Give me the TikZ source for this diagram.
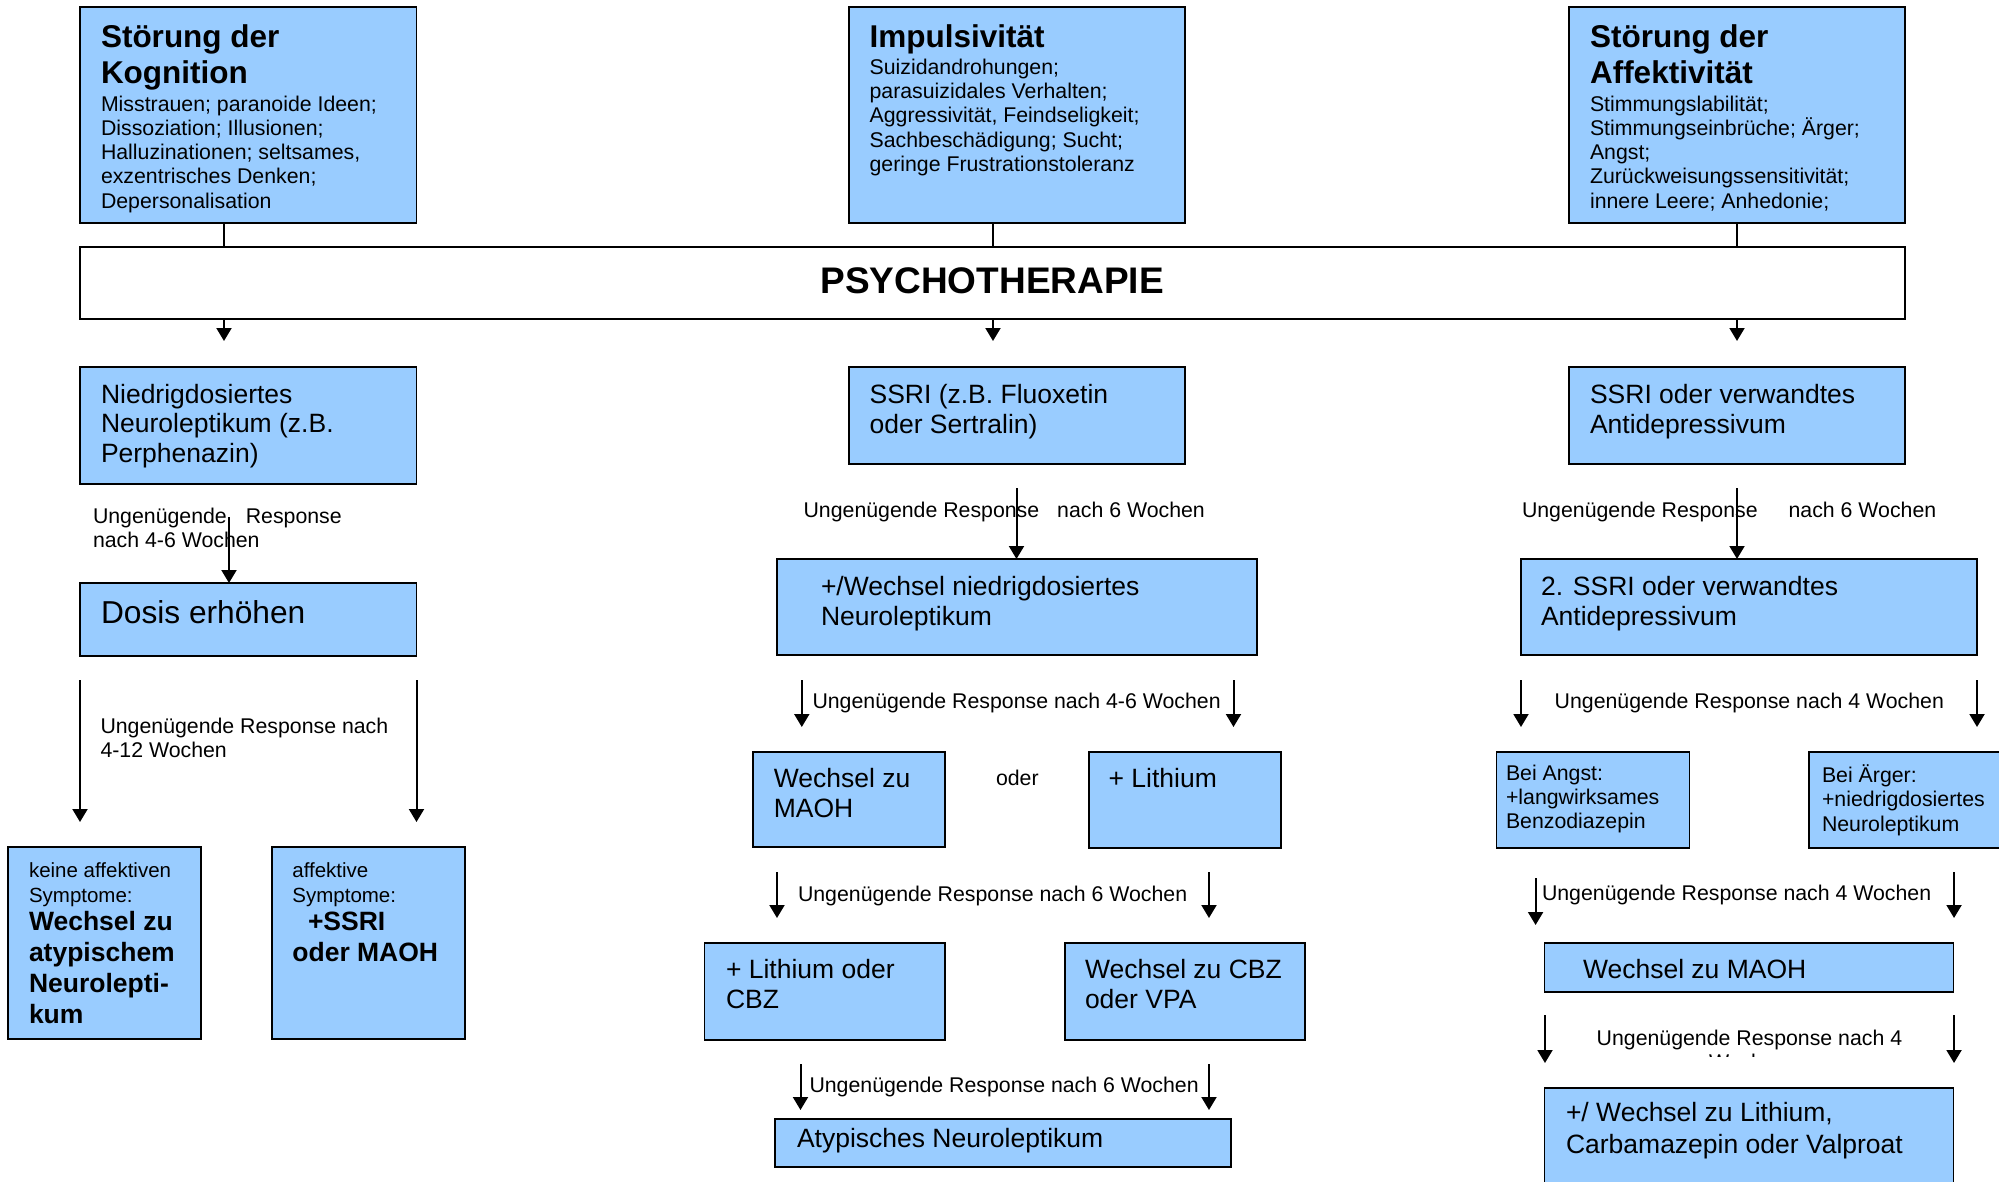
\documentclass[tikz,border=0pt]{standalone}
\usepackage{fontspec}
\setmainfont{Liberation Sans}
\usetikzlibrary{arrows.meta}
\definecolor{boxblue}{RGB}{153,204,255}
\newcommand\fs[2]{\fontsize{#1pt}{#2pt}\selectfont}
\newcommand\ml[2]{\vtop{\baselineskip=#1pt\lineskiplimit=-30pt\lineskip=0pt\relax #2}}
\tikzset{
  box/.style={draw=black, line width=1.7pt, fill=boxblue, anchor=north west, inner sep=0pt, outer sep=0pt},
  wbox/.style={box, fill=white},
  txt/.style={anchor=base west, inner sep=0pt, outer sep=0pt},
  arr/.style={line width=2pt, -{Triangle[length=13pt,width=15pt]}},
  con/.style={line width=2pt},
}
\begin{document}
\begin{tikzpicture}[x=1pt,y=-1pt]
\useasboundingbox (0,0) rectangle (1999,1181);
\clip (0,0) rectangle (1999,1181);
\fill[white] (0,0) rectangle (1999,1181);

% ---------- top row ----------
\node[box, minimum width=336.5pt, minimum height=216pt] (kog) at (80,7) {};
\node[box, minimum width=336.1pt, minimum height=216pt] (imp) at (848.7,7) {};
\node[box, minimum width=336.2pt, minimum height=216pt] (aff) at (1568.8,7) {};
\node[wbox, minimum width=1825pt, minimum height=72pt] (psy) at (80,247) {};

\node[txt] (kogT) at (101,47) {\fs{31.5}{36.5}\bfseries\ml{36.5}{\hbox{Störung der}\hbox{Kognition}}};
\node[txt] (kogB) at (101,111) {\fs{21.3}{24.3}\ml{24.3}{\hbox{Misstrauen; paranoide Ideen;}\hbox{Dissoziation; Illusionen;}\hbox{Halluzinationen; seltsames,}\hbox{exzentrisches Denken;}\hbox{Depersonalisation}}};
\node[txt] (impT) at (869.6,47) {\fs{31.5}{36.5}\bfseries Impulsivität};
\node[txt] (impB) at (869.6,74) {\fs{21.3}{24.4}\ml{24.4}{\hbox{Suizidandrohungen;}\hbox{parasuizidales Verhalten;}\hbox{Aggressivität, Feindseligkeit;}\hbox{Sachbeschädigung; Sucht;}\hbox{geringe Frustrationstoleranz}}};
\node[txt] (affT) at (1590,47) {\fs{31.5}{36.5}\bfseries\ml{36.5}{\hbox{Störung der}\hbox{Affektivität}}};
\node[txt] (affB) at (1590,111) {\fs{21.3}{24.3}\ml{24.3}{\hbox{Stimmungslabilität;}\hbox{Stimmungseinbrüche; Ärger;}\hbox{Angst;}\hbox{Zurückweisungssensitivität;}\hbox{innere Leere; Anhedonie;}}};
\node[txt] (psyT) at (820.5,293) {\fs{37}{42}\bfseries PSYCHOTHERAPIE};

\draw[con] (kog.south -| 224,0) -- (psy.north -| 224,0);
\draw[con] (imp.south -| 993,0) -- (psy.north -| 993,0);
\draw[con] (aff.south -| 1737,0) -- (psy.north -| 1737,0);
\coordinate (p1) at (224,341);
\coordinate (p2) at (993,341);
\coordinate (p3) at (1737,341);
\draw[arr] (psy.south -| p1) -- (p1);
\draw[arr] (psy.south -| p2) -- (p2);
\draw[arr] (psy.south -| p3) -- (p3);

% ---------- left column ----------
\node[box, minimum width=336.5pt, minimum height=117pt] (nied) at (80,367) {};
\node[txt] (niedT) at (101,403) {\fs{26.5}{29.5}\ml{29.5}{\hbox{Niedrigdosiertes}\hbox{Neuroleptikum (z.B.}\hbox{Perphenazin)}}};
\node[txt] (lab1) at (93,523) {\fs{21.3}{24}\ml{24}{\hbox{Ungenügende\hspace{19pt}Response}\hbox{nach 4-6 Wochen}}};
\node[box, minimum width=336.5pt, minimum height=73pt] (dosis) at (80,583) {};
\node[txt] (dosisT) at (101,623) {\fs{31.7}{36}Dosis erhöhen};
\coordinate (a1s) at (229,517);
\draw[arr] (a1s) -- (dosis.north -| a1s);

\node[txt] (lab2) at (100.5,733) {\fs{21.3}{24}\ml{24}{\hbox{Ungenügende Response nach}\hbox{4-12 Wochen}}};
\coordinate (a2ls) at (80,680); \coordinate (a2le) at (80,822);
\coordinate (a2rs) at (416.5,680); \coordinate (a2re) at (416.5,822);
\draw[arr] (a2ls) -- (a2le);
\draw[arr] (a2rs) -- (a2re);

\node[box, minimum width=193pt, minimum height=192pt] (keine) at (8,847) {};
\node[txt] (keineA) at (29,877) {\fs{20.5}{25}\ml{25}{\hbox{keine affektiven}\hbox{Symptome:}}};
\node[txt] (keineB) at (29,930) {\fs{26.5}{31}\bfseries\ml{31}{\hbox{Wechsel zu}\hbox{atypischem}\hbox{Neurolepti-}\hbox{kum}}};
\node[box, minimum width=193pt, minimum height=192pt] (affk) at (272,847) {};
\node[txt] (affkA) at (292.4,877) {\fs{20.5}{25}\ml{25}{\hbox{affektive}\hbox{Symptome:}}};
\node[txt] (affkB) at (292.4,930) {\fs{26.5}{31}\bfseries\ml{31}{\hbox{\hspace{15.6pt}+SSRI}\hbox{oder MAOH}}};

% ---------- middle column ----------
\node[box, minimum width=336.1pt, minimum height=97pt] (ssri) at (848.7,367) {};
\node[txt] (ssriT) at (869.6,403) {\fs{26.5}{30}\ml{30}{\hbox{SSRI (z.B. Fluoxetin}\hbox{oder Sertralin)}}};
\node[txt] (lab3) at (803.6,517) {\fs{21.3}{24}Ungenügende Response\hspace{18pt}nach 6 Wochen};
\node[box, minimum width=480.2pt, minimum height=96pt] (wech) at (776.8,559) {};
\node[txt] (wechT) at (821,595) {\fs{26.5}{30}\ml{30}{\hbox{+/Wechsel niedrigdosiertes}\hbox{Neuroleptikum}}};
\coordinate (a3s) at (1016.5,488);
\draw[arr] (a3s) -- (wech.north -| a3s);

\node[txt] (lab4) at (812.5,708) {\fs{21.3}{24}Ungenügende Response nach 4-6 Wochen};
\coordinate (a4ls) at (801.8,680); \coordinate (a4le) at (801.8,727);
\coordinate (a4rs) at (1233.5,680); \coordinate (a4re) at (1233.5,727);
\draw[arr] (a4ls) -- (a4le);
\draw[arr] (a4rs) -- (a4re);

\node[box, minimum width=192.2pt, minimum height=95pt] (maoh) at (752.8,752) {};
\node[txt] (maohT) at (773.8,787) {\fs{26.5}{30}\ml{30}{\hbox{Wechsel zu}\hbox{MAOH}}};
\node[txt] (oder) at (996,785) {\fs{21.3}{24}oder};
\node[box, minimum width=192pt, minimum height=96pt] (lith) at (1089,752) {};
\node[txt] (lithT) at (1108.6,787) {\fs{26.5}{30}+ Lithium};

\node[txt] (lab5) at (798,901) {\fs{21.3}{24}Ungenügende Response nach 6 Wochen};
\coordinate (a5ls) at (777,872); \coordinate (a5le) at (777,918);
\coordinate (a5rs) at (1209,872); \coordinate (a5re) at (1209,918);
\draw[arr] (a5ls) -- (a5le);
\draw[arr] (a5rs) -- (a5re);

\node[box, minimum width=240.4pt, minimum height=97pt] (lcbz) at (704.6,943) {};
\node[txt] (lcbzT) at (726,978) {\fs{26.5}{30}\ml{30}{\hbox{+ Lithium oder}\hbox{CBZ}}};
\node[box, minimum width=240.2pt, minimum height=97pt] (cbz) at (1064.8,943) {};
\node[txt] (cbzT) at (1085,978) {\fs{26.5}{30}\ml{30}{\hbox{Wechsel zu CBZ}\hbox{oder VPA}}};

\node[txt] (lab6) at (809.5,1092) {\fs{21.3}{24}Ungenügende Response nach 6 Wochen};
\coordinate (a6ls) at (800.5,1064); \coordinate (a6le) at (800.5,1110);
\coordinate (a6rs) at (1209,1064); \coordinate (a6re) at (1209,1110);
\draw[arr] (a6ls) -- (a6le);
\draw[arr] (a6rs) -- (a6re);

\node[box, minimum width=456pt, minimum height=48pt] (atyp) at (775,1119) {};
\node[txt] (atypT) at (797,1147) {\fs{26.5}{30}Atypisches Neuroleptikum};

% ---------- right column ----------
\node[box, minimum width=336.2pt, minimum height=97pt] (ssri2) at (1568.8,367) {};
\node[txt] (ssri2T) at (1590,403) {\fs{26.5}{30}\ml{30}{\hbox{SSRI oder verwandtes}\hbox{Antidepressivum}}};
\node[txt] (lab7) at (1522,517) {\fs{21.3}{24}Ungenügende Response\hspace{31pt}nach 6 Wochen};
\node[box, minimum width=456.3pt, minimum height=96pt] (ssri3) at (1520.7,559) {};
\node[txt] (ssri3T) at (1541,595) {\fs{26.5}{30}\ml{30}{\hbox{2. SSRI oder verwandtes}\hbox{Antidepressivum}}};
\coordinate (a7s) at (1737,488);
\draw[arr] (a7s) -- (ssri3.north -| a7s);

\node[txt] (lab8) at (1554.7,708) {\fs{21.3}{24}Ungenügende Response nach 4 Wochen};
\coordinate (a8ls) at (1521,680); \coordinate (a8le) at (1521,727);
\coordinate (a8rs) at (1977,680); \coordinate (a8re) at (1977,727);
\draw[arr] (a8ls) -- (a8le);
\draw[arr] (a8rs) -- (a8re);

\node[box, minimum width=193pt, minimum height=96pt] (angst) at (1496.6,752) {};
\node[txt] (angstT) at (1506,780) {\fs{21.3}{24}\ml{24.2}{\hbox{Bei Angst:}\hbox{+langwirksames}\hbox{Benzodiazepin}}};
\node[box, minimum width=210pt, minimum height=96pt] (aerger) at (1808.8,752) {};
\node[txt] (aergerT) at (1822,782) {\fs{21.3}{24}\ml{24.5}{\hbox{Bei Ärger:}\hbox{+niedrigdosiertes}\hbox{Neuroleptikum}}};

\node[txt] (lab9) at (1542,900) {\fs{21.3}{24}Ungenügende Response nach 4 Wochen};
\coordinate (a9ls) at (1535.6,878); \coordinate (a9le) at (1535.6,925);
\coordinate (a9rs) at (1954,872); \coordinate (a9re) at (1954,918);
\draw[arr] (a9ls) -- (a9le);
\draw[arr] (a9rs) -- (a9re);

\node[box, minimum width=409.1pt, minimum height=49pt] (maoh2) at (1544.4,943) {};
\node[txt] (maoh2T) at (1583,978) {\fs{26.5}{30}Wechsel zu MAOH};

\node[txt] (lab10) at (1596.7,1045) {\fs{21.3}{24}Ungenügende Response nach 4};
\begin{scope}
  \clip (1690,1030) rectangle (1780,1056.5);
  \node[txt] (lab10b) at (1709,1069.4) {\fs{21.3}{24}Wochen};
\end{scope}
\coordinate (a10ls) at (1545,1015); \coordinate (a10le) at (1545,1063);
\coordinate (a10rs) at (1954,1015); \coordinate (a10re) at (1954,1063);
\draw[arr] (a10ls) -- (a10le);
\draw[arr] (a10rs) -- (a10re);

\node[box, minimum width=409.1pt, minimum height=130pt] (lithr) at (1544.4,1087.7) {};
\node[txt] (lithrT) at (1566,1121.7) {\fs{26.5}{31}\ml{31.3}{\hbox{+/ Wechsel zu Lithium,}\hbox{Carbamazepin oder Valproat}}};
\end{tikzpicture}
\end{document}
